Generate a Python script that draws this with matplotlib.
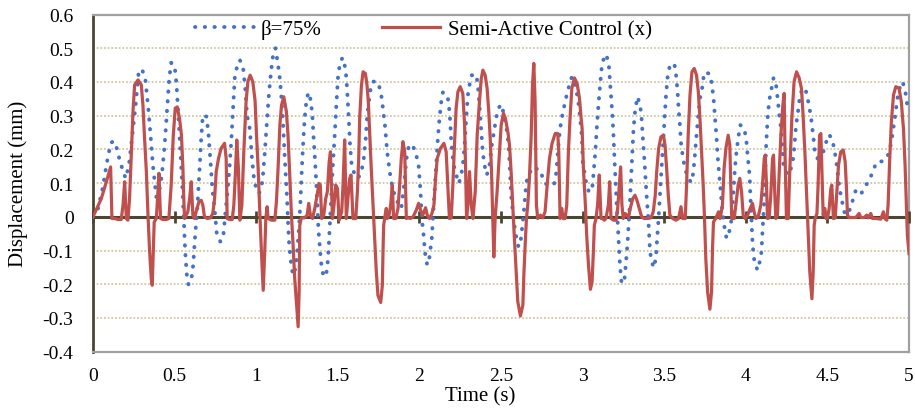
import numpy as np
import matplotlib
matplotlib.use('Agg')
import matplotlib.pyplot as plt

# (time s, displacement mm)
beta_pts = np.array([
    (0.000, 0.000), (0.031, 0.025), (0.061, 0.089), (0.082, 0.153), (0.108, 0.218), (0.125, 0.225),
    (0.143, 0.208), (0.167, 0.161), (0.200, 0.114), (0.220, 0.153), (0.241, 0.242), (0.261, 0.331),
    (0.280, 0.430), (0.300, 0.438), (0.320, 0.410), (0.337, 0.331), (0.351, 0.252), (0.367, 0.153),
    (0.388, 0.059), (0.402, 0.064), (0.422, 0.124), (0.439, 0.213), (0.453, 0.312), (0.467, 0.410),
    (0.479, 0.457), (0.500, 0.450), (0.512, 0.391), (0.524, 0.292), (0.537, 0.183), (0.549, 0.074),
    (0.557, -0.015), (0.565, -0.104), (0.575, -0.173), (0.585, -0.201), (0.602, -0.188), (0.614, -0.143),
    (0.626, -0.054), (0.639, 0.025), (0.651, 0.124), (0.663, 0.232), (0.673, 0.302), (0.696, 0.297),
    (0.708, 0.242), (0.720, 0.163), (0.732, 0.079), (0.745, 0.025), (0.759, -0.054), (0.781, -0.074),
    (0.800, -0.049), (0.810, 0.005), (0.822, 0.064), (0.836, 0.143), (0.847, 0.223), (0.859, 0.331),
    (0.869, 0.415), (0.881, 0.442), (0.900, 0.465), (0.920, 0.440), (0.932, 0.386), (0.944, 0.302),
    (0.961, 0.260), (0.973, 0.180), (0.989, 0.100), (1.018, 0.069), (1.038, 0.104), (1.053, 0.193),
    (1.067, 0.292), (1.079, 0.371), (1.089, 0.420), (1.100, 0.470), (1.118, 0.500), (1.134, 0.450),
    (1.145, 0.410), (1.155, 0.351), (1.165, 0.272), (1.173, 0.193), (1.181, 0.124), (1.189, 0.054),
    (1.195, -0.015), (1.201, -0.074), (1.210, -0.124), (1.222, -0.163), (1.232, -0.173), (1.243, -0.143),
    (1.253, -0.094), (1.263, -0.025), (1.271, 0.045), (1.279, 0.134), (1.287, 0.213), (1.297, 0.292),
    (1.308, 0.346), (1.320, 0.369), (1.334, 0.346), (1.344, 0.302), (1.352, 0.232), (1.361, 0.163),
    (1.369, 0.094), (1.375, 0.035), (1.381, -0.035), (1.389, -0.084), (1.397, -0.134), (1.409, -0.168),
    (1.426, -0.178), (1.436, -0.148), (1.444, -0.094), (1.453, -0.005), (1.461, 0.074), (1.471, 0.163),
    (1.481, 0.242), (1.491, 0.331), (1.502, 0.420), (1.512, 0.450), (1.528, 0.472), (1.542, 0.450),
    (1.552, 0.415), (1.559, 0.361), (1.567, 0.292), (1.575, 0.213), (1.585, 0.153), (1.604, 0.124),
    (1.624, 0.114), (1.645, 0.134), (1.659, 0.173), (1.671, 0.232), (1.679, 0.292), (1.690, 0.341),
    (1.700, 0.376), (1.716, 0.401), (1.743, 0.401), (1.761, 0.376), (1.771, 0.346), (1.781, 0.302),
    (1.791, 0.262), (1.797, 0.223), (1.805, 0.183), (1.818, 0.134), (1.828, 0.104), (1.842, 0.074),
    (1.865, 0.045), (1.889, 0.025), (1.905, 0.090), (1.920, 0.170), (1.936, 0.213), (1.956, 0.213),
    (1.975, 0.195), (1.995, 0.153), (2.007, 0.074), (2.015, -0.005), (2.021, -0.035), (2.028, -0.064),
    (2.032, -0.094), (2.038, -0.119), (2.048, -0.143), (2.062, -0.119), (2.068, -0.094), (2.076, -0.064),
    (2.082, -0.010), (2.093, 0.074), (2.103, 0.153), (2.113, 0.232), (2.123, 0.292), (2.134, 0.341),
    (2.144, 0.369), (2.168, 0.363), (2.179, 0.341), (2.189, 0.282), (2.195, 0.223), (2.205, 0.173),
    (2.215, 0.143), (2.229, 0.119), (2.242, 0.099), (2.256, 0.124), (2.266, 0.153), (2.277, 0.213),
    (2.287, 0.292), (2.297, 0.361), (2.307, 0.391), (2.321, 0.420), (2.348, 0.422), (2.358, 0.391),
    (2.368, 0.331), (2.378, 0.262), (2.388, 0.193), (2.399, 0.153), (2.413, 0.124), (2.429, 0.153),
    (2.444, 0.213), (2.460, 0.262), (2.476, 0.307), (2.490, 0.326), (2.505, 0.333), (2.517, 0.302),
    (2.531, 0.272), (2.542, 0.232), (2.550, 0.183), (2.556, 0.124), (2.562, 0.064), (2.572, 0.015),
    (2.582, -0.025), (2.593, -0.059), (2.607, -0.089), (2.619, -0.079), (2.629, -0.035), (2.640, 0.015),
    (2.650, 0.074), (2.660, 0.114), (2.674, 0.129), (2.695, 0.148), (2.715, 0.143), (2.742, 0.138),
    (2.756, 0.114), (2.770, 0.099), (2.791, 0.094), (2.824, 0.094), (2.838, 0.129), (2.852, 0.213),
    (2.862, 0.262), (2.878, 0.307), (2.893, 0.341), (2.905, 0.366), (2.919, 0.391), (2.934, 0.415),
    (2.950, 0.401), (2.971, 0.351), (2.981, 0.312), (2.995, 0.240), (3.001, 0.163), (3.011, 0.134),
    (3.021, 0.104), (3.038, 0.074), (3.058, 0.079), (3.068, 0.134), (3.078, 0.193), (3.088, 0.272),
    (3.097, 0.331), (3.107, 0.391), (3.115, 0.435), (3.127, 0.465), (3.144, 0.482), (3.160, 0.455),
    (3.168, 0.401), (3.176, 0.351), (3.184, 0.292), (3.190, 0.232), (3.197, 0.153), (3.205, 0.074),
    (3.211, 0.015), (3.217, -0.035), (3.223, -0.094), (3.229, -0.143), (3.239, -0.198), (3.256, -0.188),
    (3.266, -0.134), (3.276, -0.074), (3.282, -0.025), (3.291, 0.054), (3.297, 0.114), (3.303, 0.173),
    (3.311, 0.252), (3.319, 0.302), (3.327, 0.331), (3.337, 0.356), (3.352, 0.331), (3.360, 0.302),
    (3.368, 0.242), (3.378, 0.173), (3.384, 0.124), (3.392, 0.064), (3.401, 0.005), (3.407, -0.045),
    (3.413, -0.104), (3.425, -0.134), (3.435, -0.151), (3.449, -0.124), (3.456, -0.069), (3.464, -0.015),
    (3.470, 0.035), (3.480, 0.114), (3.490, 0.193), (3.501, 0.282), (3.511, 0.361), (3.521, 0.415),
    (3.535, 0.450), (3.562, 0.454), (3.572, 0.425), (3.582, 0.371), (3.588, 0.322), (3.596, 0.272),
    (3.604, 0.213), (3.613, 0.183), (3.623, 0.153), (3.639, 0.124), (3.664, 0.102), (3.678, 0.129),
    (3.688, 0.183), (3.698, 0.242), (3.709, 0.302), (3.719, 0.351), (3.731, 0.376), (3.745, 0.428),
    (3.776, 0.425), (3.792, 0.396), (3.804, 0.341), (3.813, 0.282), (3.821, 0.232), (3.827, 0.183),
    (3.837, 0.124), (3.845, 0.084), (3.853, 0.035), (3.862, -0.005), (3.872, -0.040), (3.882, -0.064),
    (3.898, -0.045), (3.908, -0.025), (3.919, 0.025), (3.925, 0.084), (3.935, 0.153), (3.943, 0.193),
    (3.953, 0.232), (3.966, 0.272), (3.984, 0.267), (3.995, 0.250), (4.006, 0.215), (4.010, 0.188),
    (4.016, 0.158), (4.021, 0.134), (4.025, 0.104), (4.027, 0.074), (4.031, 0.035), (4.035, -0.005),
    (4.039, -0.059), (4.043, -0.084), (4.047, -0.114), (4.056, -0.139), (4.072, -0.158), (4.086, -0.132),
    (4.096, -0.104), (4.102, -0.045), (4.108, 0.005), (4.113, 0.045), (4.118, 0.110), (4.123, 0.193),
    (4.129, 0.252), (4.135, 0.302), (4.141, 0.331), (4.149, 0.361), (4.160, 0.386), (4.170, 0.412),
    (4.184, 0.399), (4.190, 0.371), (4.198, 0.341), (4.202, 0.312), (4.211, 0.282), (4.219, 0.242),
    (4.225, 0.203), (4.231, 0.153), (4.245, 0.134), (4.261, 0.124), (4.280, 0.148), (4.292, 0.178),
    (4.300, 0.223), (4.308, 0.272), (4.320, 0.312), (4.332, 0.361), (4.348, 0.381), (4.364, 0.381),
    (4.378, 0.354), (4.388, 0.326), (4.398, 0.302), (4.405, 0.272), (4.413, 0.242), (4.423, 0.193),
    (4.439, 0.173), (4.455, 0.188), (4.475, 0.193), (4.492, 0.221), (4.511, 0.244), (4.531, 0.227),
    (4.541, 0.203), (4.552, 0.173), (4.562, 0.134), (4.572, 0.094), (4.582, 0.064), (4.592, 0.040),
    (4.603, 0.015), (4.619, 0.005), (4.643, 0.027), (4.657, 0.052), (4.674, 0.079), (4.705, 0.067),
    (4.731, 0.089), (4.762, 0.114), (4.780, 0.138), (4.803, 0.163), (4.844, 0.165), (4.874, 0.185),
    (4.888, 0.213), (4.898, 0.242), (4.913, 0.292), (4.921, 0.321), (4.929, 0.351), (4.942, 0.381),
    (4.960, 0.401), (4.976, 0.376), (4.985, 0.346), (4.995, 0.310),
])

semi_pts = np.array([
    (0.000, 0.000), (0.051, 0.054), (0.082, 0.104), (0.108, 0.148), (0.116, -0.005), (0.133, -0.005),
    (0.153, -0.008), (0.173, -0.008), (0.184, 0.035), (0.194, 0.104), (0.204, -0.005), (0.214, -0.010),
    (0.224, 0.054), (0.235, 0.193), (0.245, 0.312), (0.255, 0.391), (0.276, 0.406), (0.296, 0.391),
    (0.306, 0.331), (0.316, 0.232), (0.327, 0.134), (0.337, 0.005), (0.347, -0.104), (0.357, -0.183),
    (0.363, -0.203), (0.369, -0.104), (0.375, -0.015), (0.388, -0.005), (0.398, 0.074), (0.404, 0.129),
    (0.414, -0.005), (0.428, -0.008), (0.449, -0.008), (0.465, -0.005), (0.479, 0.094), (0.492, 0.242),
    (0.504, 0.322), (0.516, 0.326), (0.530, 0.292), (0.542, 0.242), (0.551, 0.143), (0.557, 0.045),
    (0.561, -0.005), (0.571, 0.005), (0.581, 0.015), (0.592, 0.054), (0.602, 0.104), (0.612, 0.005),
    (0.622, -0.005), (0.632, 0.015), (0.649, 0.045), (0.663, 0.049), (0.673, 0.035), (0.683, 0.000),
    (0.700, -0.005), (0.720, -0.003), (0.734, 0.010), (0.745, 0.054), (0.755, 0.134), (0.769, 0.173),
    (0.785, 0.203), (0.806, 0.218), (0.816, 0.173), (0.822, -0.005), (0.836, -0.008), (0.853, -0.008),
    (0.863, 0.035), (0.873, 0.134), (0.881, 0.228), (0.891, 0.143), (0.900, -0.010), (0.912, 0.035),
    (0.924, 0.193), (0.938, 0.341), (0.949, 0.401), (0.963, 0.420), (0.979, 0.401), (0.993, 0.345),
    (1.002, 0.242), (1.012, 0.143), (1.022, 0.015), (1.032, -0.104), (1.043, -0.218), (1.053, -0.094),
    (1.059, -0.005), (1.067, 0.030), (1.073, -0.005), (1.094, -0.010), (1.114, -0.010), (1.124, 0.045),
    (1.134, 0.143), (1.145, 0.272), (1.155, 0.331), (1.169, 0.356), (1.185, 0.312), (1.195, 0.242),
    (1.206, 0.114), (1.216, 0.005), (1.226, -0.084), (1.236, -0.183), (1.249, -0.272), (1.257, -0.326),
    (1.263, -0.223), (1.267, -0.025), (1.277, -0.003), (1.297, -0.003), (1.312, 0.005), (1.322, 0.040),
    (1.332, 0.005), (1.345, -0.005), (1.359, 0.025), (1.373, 0.064), (1.385, 0.099), (1.393, 0.094),
    (1.401, -0.005), (1.414, 0.005), (1.426, 0.054), (1.436, 0.074), (1.447, 0.163), (1.455, 0.193),
    (1.467, -0.005), (1.477, 0.035), (1.487, 0.094), (1.498, 0.084), (1.508, -0.010), (1.524, 0.015),
    (1.532, 0.094), (1.542, 0.228), (1.552, -0.005), (1.562, 0.054), (1.573, 0.114), (1.581, 0.124),
    (1.593, -0.005), (1.610, -0.005), (1.620, 0.074), (1.628, 0.173), (1.634, 0.292), (1.645, 0.391),
    (1.655, 0.430), (1.669, 0.425), (1.679, 0.391), (1.687, 0.341), (1.695, 0.252), (1.705, 0.143),
    (1.716, 0.035), (1.726, -0.064), (1.736, -0.163), (1.746, -0.233), (1.763, -0.254), (1.773, -0.203),
    (1.777, -0.104), (1.781, -0.025), (1.787, -0.005), (1.797, 0.025), (1.803, -0.005), (1.814, 0.005),
    (1.824, 0.035), (1.834, 0.094), (1.842, -0.005), (1.855, -0.005), (1.869, 0.025), (1.879, 0.094),
    (1.889, 0.173), (1.899, 0.223), (1.910, 0.193), (1.920, -0.005), (1.930, -0.003), (1.944, -0.005),
    (1.961, 0.000), (1.981, 0.020), (1.995, 0.040), (2.007, 0.020), (2.021, 0.005), (2.038, 0.027),
    (2.048, 0.005), (2.062, -0.005), (2.077, 0.010), (2.089, 0.035), (2.099, 0.114), (2.109, 0.173),
    (2.129, 0.203), (2.150, 0.218), (2.164, 0.193), (2.174, 0.094), (2.184, -0.005), (2.195, -0.003),
    (2.205, 0.094), (2.215, 0.213), (2.225, 0.322), (2.236, 0.371), (2.250, 0.386), (2.266, 0.366),
    (2.277, 0.272), (2.283, 0.143), (2.289, -0.005), (2.297, 0.035), (2.307, 0.134), (2.318, 0.035),
    (2.328, -0.005), (2.342, 0.074), (2.354, 0.242), (2.368, 0.341), (2.379, 0.410), (2.389, 0.435),
    (2.403, 0.420), (2.415, 0.381), (2.425, 0.312), (2.434, 0.232), (2.442, 0.134), (2.448, 0.025),
    (2.456, -0.119), (2.464, -0.005), (2.476, 0.074), (2.491, 0.193), (2.501, 0.272), (2.515, 0.307),
    (2.527, 0.292), (2.542, 0.252), (2.552, 0.213), (2.562, 0.134), (2.572, 0.035), (2.582, -0.064),
    (2.593, -0.163), (2.603, -0.252), (2.619, -0.294), (2.634, -0.262), (2.640, -0.173), (2.648, -0.084),
    (2.656, -0.005), (2.664, 0.035), (2.674, 0.114), (2.685, 0.242), (2.693, 0.391), (2.701, 0.455),
    (2.709, 0.341), (2.717, 0.035), (2.725, -0.005), (2.742, 0.005), (2.756, -0.003), (2.770, 0.015),
    (2.783, 0.094), (2.797, 0.173), (2.813, 0.218), (2.832, 0.247), (2.848, 0.247), (2.854, 0.193),
    (2.862, -0.005), (2.872, 0.025), (2.881, -0.005), (2.893, -0.005), (2.903, 0.035), (2.913, 0.193),
    (2.923, 0.292), (2.934, 0.381), (2.950, 0.412), (2.966, 0.396), (2.981, 0.351), (2.991, 0.292),
    (2.997, 0.262), (3.005, 0.143), (3.017, 0.035), (3.025, -0.054), (3.036, -0.143), (3.048, -0.215),
    (3.058, -0.193), (3.066, -0.104), (3.072, -0.025), (3.082, -0.005), (3.092, 0.035), (3.102, 0.124),
    (3.113, -0.005), (3.123, -0.005), (3.133, -0.010), (3.143, -0.005), (3.158, 0.035), (3.166, 0.104),
    (3.174, -0.005), (3.190, -0.010), (3.205, -0.010), (3.215, 0.025), (3.225, 0.094), (3.233, 0.148),
    (3.241, 0.035), (3.249, -0.005), (3.260, 0.010), (3.270, 0.005), (3.282, 0.000), (3.292, 0.025),
    (3.307, 0.054), (3.321, 0.064), (3.333, 0.049), (3.347, 0.025), (3.362, 0.000), (3.378, -0.005),
    (3.399, -0.005), (3.419, -0.003), (3.433, 0.015), (3.445, 0.064), (3.454, 0.134), (3.466, 0.203),
    (3.480, 0.237), (3.495, 0.242), (3.505, 0.213), (3.515, 0.143), (3.525, 0.064), (3.535, 0.005),
    (3.552, -0.005), (3.572, -0.010), (3.588, -0.005), (3.603, 0.030), (3.613, -0.005), (3.629, -0.005),
    (3.637, 0.094), (3.647, 0.242), (3.658, 0.361), (3.670, 0.430), (3.684, 0.440), (3.698, 0.420),
    (3.709, 0.371), (3.719, 0.292), (3.729, 0.193), (3.739, 0.094), (3.747, -0.005), (3.755, -0.124),
    (3.766, -0.223), (3.780, -0.274), (3.790, -0.223), (3.796, -0.094), (3.802, -0.015), (3.816, -0.005),
    (3.833, 0.015), (3.843, -0.005), (3.857, 0.035), (3.867, 0.143), (3.878, 0.203), (3.892, 0.242),
    (3.902, 0.213), (3.908, 0.094), (3.914, -0.005), (3.929, -0.005), (3.939, 0.035), (3.953, 0.094),
    (3.963, 0.114), (3.974, 0.074), (3.984, 0.005), (3.996, -0.005), (4.011, 0.005), (4.027, 0.025),
    (4.041, 0.040), (4.051, 0.015), (4.062, -0.005), (4.076, 0.000), (4.092, 0.035), (4.102, 0.094),
    (4.113, 0.173), (4.119, 0.183), (4.127, 0.094), (4.133, -0.005), (4.143, -0.003), (4.153, 0.064),
    (4.164, 0.173), (4.170, 0.183), (4.178, 0.064), (4.184, -0.005), (4.194, 0.005), (4.205, 0.134),
    (4.215, 0.242), (4.227, 0.331), (4.235, 0.366), (4.241, 0.173), (4.249, -0.005), (4.260, -0.005),
    (4.270, 0.143), (4.282, 0.292), (4.296, 0.401), (4.311, 0.430), (4.327, 0.412), (4.341, 0.381),
    (4.351, 0.302), (4.362, 0.193), (4.372, 0.074), (4.382, -0.045), (4.392, -0.163), (4.405, -0.243),
    (4.413, -0.163), (4.419, -0.025), (4.425, -0.005), (4.436, 0.010), (4.443, 0.094), (4.452, 0.242),
    (4.460, 0.247), (4.466, 0.143), (4.474, 0.005), (4.484, 0.025), (4.492, -0.005), (4.500, -0.005),
    (4.511, 0.025), (4.521, 0.084), (4.527, 0.094), (4.537, -0.005), (4.548, -0.003), (4.558, 0.074),
    (4.568, 0.153), (4.582, 0.193), (4.597, 0.198), (4.609, 0.163), (4.617, 0.084), (4.623, 0.005),
    (4.633, -0.002), (4.654, -0.002), (4.674, -0.002), (4.694, 0.010), (4.705, -0.002), (4.725, -0.002),
    (4.741, 0.005), (4.750, -0.003), (4.766, 0.010), (4.776, -0.005), (4.797, -0.005), (4.827, -0.007),
    (4.843, 0.015), (4.852, -0.005), (4.864, -0.010), (4.872, 0.035), (4.882, 0.173), (4.892, 0.282),
    (4.905, 0.361), (4.919, 0.386), (4.939, 0.381), (4.953, 0.341), (4.966, 0.262), (4.976, 0.153),
    (4.984, 0.035), (4.990, -0.054), (5.000, -0.109),
])

t_beta, d_beta = beta_pts.T
t_semi, d_semi = semi_pts.T

x_ticks = [0, 0.5, 1, 1.5, 2, 2.5, 3, 3.5, 4, 4.5, 5]
y_ticks = [-0.4, -0.3, -0.2, -0.1, 0, 0.1, 0.2, 0.3, 0.4, 0.5, 0.6]

plt.rcParams['font.family'] = ['Liberation Serif', 'DejaVu Serif']
dark = '#4a4630'

fig = plt.figure(figsize=(9.15, 4.14), dpi=100)
ax = fig.add_axes([93/915, 1 - 352.7/414, (909 - 93)/915, (352.7 - 15.5)/414])

ax.plot(t_beta, d_beta, color='#4472C4', lw=2.8, linestyle=(0, (0.1, 2.4)),
        dash_capstyle='round', label='β=75%', zorder=3)
ax.plot(t_semi, d_semi, color='#C0504D', lw=2.3, solid_joinstyle='round',
        label='Semi-Active Control (x)', zorder=4)

ax.set_xlim(0, 5)
ax.set_ylim(-0.4, 0.6)
ax.set_xticks(x_ticks)
ax.set_xticklabels(['%g' % v for v in x_ticks])
ax.set_yticks(y_ticks)
ax.set_yticklabels(['0' if v == 0 else '%.1f' % v for v in y_ticks])
ax.tick_params(axis='both', length=0, labelsize=14)
ax.tick_params(axis='y', pad=14)
ax.tick_params(axis='x', pad=11)
ax.yaxis.grid(True, linestyle=(0, (1.2, 1.2)), color='#c9bf95', lw=1.1)
ax.set_axisbelow(True)

for s in ['top', 'right', 'bottom']:
    ax.spines[s].set_color('#a0a0a0')
    ax.spines[s].set_linewidth(1.6)
ax.spines['left'].set_color(dark)
ax.spines['left'].set_linewidth(2)

# horizontal axis crossing at zero, with tick marks
ax.axhline(0, color=dark, lw=2.2, zorder=2.5)
zero_ax = ax.secondary_xaxis(0.4)
zero_ax.set_xticks(x_ticks)
zero_ax.tick_params(axis='x', direction='inout', length=9, width=2, color=dark,
                    labelbottom=False, labeltop=False)
zero_ax.set_zorder(2.6)
for s in zero_ax.spines.values():
    s.set_visible(False)

fig.text(480/915, 1 - 397/414, 'Time (s)', ha='center', va='center', fontsize=15)
fig.text(18/915, 1 - 184/414, 'Displacement (mm)', rotation=90, ha='center', va='center', fontsize=15)

ax.legend(loc='center', bbox_to_anchor=(0.405, 0.957), ncol=2, frameon=False, fontsize=15,
          handlelength=2.8, handletextpad=0.35, columnspacing=2.9, borderaxespad=0)

fig.savefig('out.png', dpi=100)
